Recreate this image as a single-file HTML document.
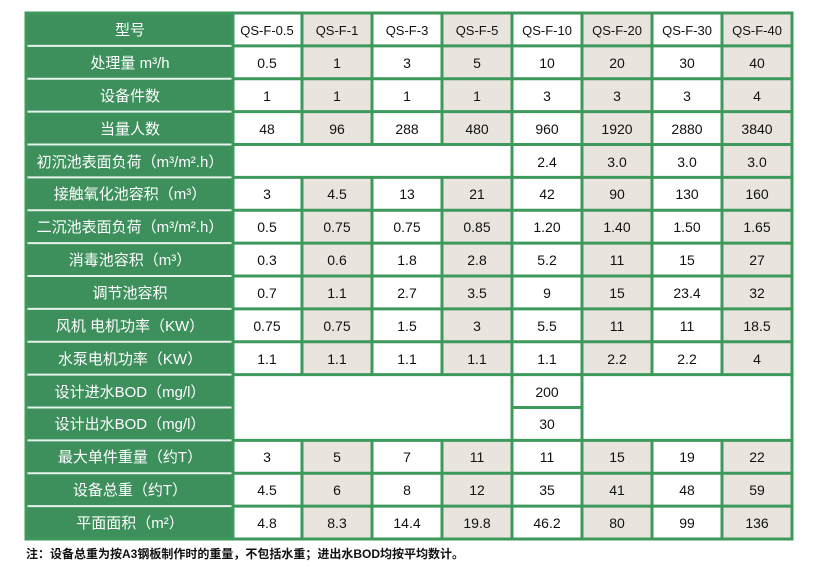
<!DOCTYPE html>
<html><head><meta charset="utf-8"><style>
html,body{margin:0;padding:0;background:#fff;width:815px;height:573px;overflow:hidden}
svg{display:block}
text{font-family:"Liberation Sans","Noto Sans CJK SC",sans-serif;font-size:14px;text-anchor:middle;fill:#111}
.l text{fill:#fff;font-size:15px}
.n{font-size:12px;text-anchor:start;fill:#111;font-weight:bold}
</style></head><body>
<svg width="815" height="573" viewBox="0 0 815 573">
<rect x="26" y="13" width="766" height="526" fill="#fff"/>
<g fill="#e9e5de">
<rect x="302" y="13" width="70" height="526"/>
<rect x="442" y="13" width="70" height="526"/>
<rect x="582" y="13" width="70" height="526"/>
<rect x="722" y="13" width="70" height="526"/>
</g>
<g fill="#fff">
<rect x="233" y="144.5" width="279" height="32.9"/>
<rect x="233" y="374.6" width="279" height="65.8"/>
<rect x="582" y="374.6" width="210" height="65.8"/>
</g>
<rect x="26" y="13" width="207" height="526" fill="#3d8f5c"/>
<g stroke="#e6f2ea" stroke-width="2">
<line x1="26" x2="233" y1="45.9" y2="45.9"/><line x1="26" x2="233" y1="78.8" y2="78.8"/>
<line x1="26" x2="233" y1="111.6" y2="111.6"/><line x1="26" x2="233" y1="144.5" y2="144.5"/>
<line x1="26" x2="233" y1="177.4" y2="177.4"/><line x1="26" x2="233" y1="210.3" y2="210.3"/>
<line x1="26" x2="233" y1="243.1" y2="243.1"/><line x1="26" x2="233" y1="276" y2="276"/>
<line x1="26" x2="233" y1="308.9" y2="308.9"/><line x1="26" x2="233" y1="341.8" y2="341.8"/>
<line x1="26" x2="233" y1="374.6" y2="374.6"/><line x1="26" x2="233" y1="407.5" y2="407.5"/>
<line x1="26" x2="233" y1="440.4" y2="440.4"/><line x1="26" x2="233" y1="473.3" y2="473.3"/>
<line x1="26" x2="233" y1="506.1" y2="506.1"/>
</g>
<g stroke="#3e9a5c" stroke-width="3" fill="none">
<rect x="26" y="13" width="766" height="526"/>
<line x1="233" x2="792" y1="45.9" y2="45.9"/><line x1="233" x2="792" y1="78.8" y2="78.8"/>
<line x1="233" x2="792" y1="111.6" y2="111.6"/><line x1="233" x2="792" y1="144.5" y2="144.5"/>
<line x1="233" x2="792" y1="177.4" y2="177.4"/><line x1="233" x2="792" y1="210.3" y2="210.3"/>
<line x1="233" x2="792" y1="243.1" y2="243.1"/><line x1="233" x2="792" y1="276" y2="276"/>
<line x1="233" x2="792" y1="308.9" y2="308.9"/><line x1="233" x2="792" y1="341.8" y2="341.8"/>
<line x1="233" x2="792" y1="374.6" y2="374.6"/>
<line x1="512" x2="582" y1="407.5" y2="407.5"/>
<line x1="233" x2="792" y1="440.4" y2="440.4"/><line x1="233" x2="792" y1="473.3" y2="473.3"/>
<line x1="233" x2="792" y1="506.1" y2="506.1"/>
<line x1="233" x2="233" y1="13" y2="539"/>
<line x1="512" x2="512" y1="13" y2="539"/>
<line x1="582" x2="582" y1="13" y2="539"/>
<line x1="302" x2="302" y1="13" y2="144.5"/><line x1="302" x2="302" y1="177.4" y2="374.6"/><line x1="302" x2="302" y1="440.4" y2="539"/>
<line x1="372" x2="372" y1="13" y2="144.5"/><line x1="372" x2="372" y1="177.4" y2="374.6"/><line x1="372" x2="372" y1="440.4" y2="539"/>
<line x1="442" x2="442" y1="13" y2="144.5"/><line x1="442" x2="442" y1="177.4" y2="374.6"/><line x1="442" x2="442" y1="440.4" y2="539"/>
<line x1="652" x2="652" y1="13" y2="374.6"/><line x1="652" x2="652" y1="440.4" y2="539"/>
<line x1="722" x2="722" y1="13" y2="374.6"/><line x1="722" x2="722" y1="440.4" y2="539"/>
</g>
<g class="l">
<text x="130" y="35">型号</text>
<text x="130" y="68">处理量 m³/h</text>
<text x="130" y="101">设备件数</text>
<text x="130" y="134">当量人数</text>
<text x="130" y="167">初沉池表面负荷（m³/m².h）</text>
<text x="130" y="199">接触氧化池容积（m³）</text>
<text x="130" y="232">二沉池表面负荷（m³/m².h）</text>
<text x="130" y="265">消毒池容积（m³）</text>
<text x="130" y="298">调节池容积</text>
<text x="130" y="331">风机 电机功率（KW）</text>
<text x="130" y="364">水泵电机功率（KW）</text>
<text x="130" y="397">设计进水BOD（mg/l）</text>
<text x="130" y="429">设计出水BOD（mg/l）</text>
<text x="130" y="462">最大单件重量（约T）</text>
<text x="130" y="495">设备总重（约T）</text>
<text x="130" y="528">平面面积（m²）</text>
</g>
<g>
<text x="267" y="35" style="font-size:13px">QS-F-0.5</text><text x="337" y="35" style="font-size:13px">QS-F-1</text><text x="407" y="35" style="font-size:13px">QS-F-3</text><text x="477" y="35" style="font-size:13px">QS-F-5</text><text x="547" y="35" style="font-size:13px">QS-F-10</text><text x="617" y="35" style="font-size:13px">QS-F-20</text><text x="687" y="35" style="font-size:13px">QS-F-30</text><text x="757" y="35" style="font-size:13px">QS-F-40</text>
<text x="267" y="68">0.5</text><text x="337" y="68">1</text><text x="407" y="68">3</text><text x="477" y="68">5</text><text x="547" y="68">10</text><text x="617" y="68">20</text><text x="687" y="68">30</text><text x="757" y="68">40</text>
<text x="267" y="101">1</text><text x="337" y="101">1</text><text x="407" y="101">1</text><text x="477" y="101">1</text><text x="547" y="101">3</text><text x="617" y="101">3</text><text x="687" y="101">3</text><text x="757" y="101">4</text>
<text x="267" y="134">48</text><text x="337" y="134">96</text><text x="407" y="134">288</text><text x="477" y="134">480</text><text x="547" y="134">960</text><text x="617" y="134">1920</text><text x="687" y="134">2880</text><text x="757" y="134">3840</text>
<text x="547" y="167">2.4</text><text x="617" y="167">3.0</text><text x="687" y="167">3.0</text><text x="757" y="167">3.0</text>
<text x="267" y="199">3</text><text x="337" y="199">4.5</text><text x="407" y="199">13</text><text x="477" y="199">21</text><text x="547" y="199">42</text><text x="617" y="199">90</text><text x="687" y="199">130</text><text x="757" y="199">160</text>
<text x="267" y="232">0.5</text><text x="337" y="232">0.75</text><text x="407" y="232">0.75</text><text x="477" y="232">0.85</text><text x="547" y="232">1.20</text><text x="617" y="232">1.40</text><text x="687" y="232">1.50</text><text x="757" y="232">1.65</text>
<text x="267" y="265">0.3</text><text x="337" y="265">0.6</text><text x="407" y="265">1.8</text><text x="477" y="265">2.8</text><text x="547" y="265">5.2</text><text x="617" y="265">11</text><text x="687" y="265">15</text><text x="757" y="265">27</text>
<text x="267" y="298">0.7</text><text x="337" y="298">1.1</text><text x="407" y="298">2.7</text><text x="477" y="298">3.5</text><text x="547" y="298">9</text><text x="617" y="298">15</text><text x="687" y="298">23.4</text><text x="757" y="298">32</text>
<text x="267" y="331">0.75</text><text x="337" y="331">0.75</text><text x="407" y="331">1.5</text><text x="477" y="331">3</text><text x="547" y="331">5.5</text><text x="617" y="331">11</text><text x="687" y="331">11</text><text x="757" y="331">18.5</text>
<text x="267" y="364">1.1</text><text x="337" y="364">1.1</text><text x="407" y="364">1.1</text><text x="477" y="364">1.1</text><text x="547" y="364">1.1</text><text x="617" y="364">2.2</text><text x="687" y="364">2.2</text><text x="757" y="364">4</text>
<text x="547" y="397">200</text>
<text x="547" y="429">30</text>
<text x="267" y="462">3</text><text x="337" y="462">5</text><text x="407" y="462">7</text><text x="477" y="462">11</text><text x="547" y="462">11</text><text x="617" y="462">15</text><text x="687" y="462">19</text><text x="757" y="462">22</text>
<text x="267" y="495">4.5</text><text x="337" y="495">6</text><text x="407" y="495">8</text><text x="477" y="495">12</text><text x="547" y="495">35</text><text x="617" y="495">41</text><text x="687" y="495">48</text><text x="757" y="495">59</text>
<text x="267" y="528">4.8</text><text x="337" y="528">8.3</text><text x="407" y="528">14.4</text><text x="477" y="528">19.8</text><text x="547" y="528">46.2</text><text x="617" y="528">80</text><text x="687" y="528">99</text><text x="757" y="528">136</text>
</g>
<text class="n" x="26" y="558">注：设备总重为按A3钢板制作时的重量，不包括水重；进出水BOD均按平均数计。</text>
</svg>
</body></html>
